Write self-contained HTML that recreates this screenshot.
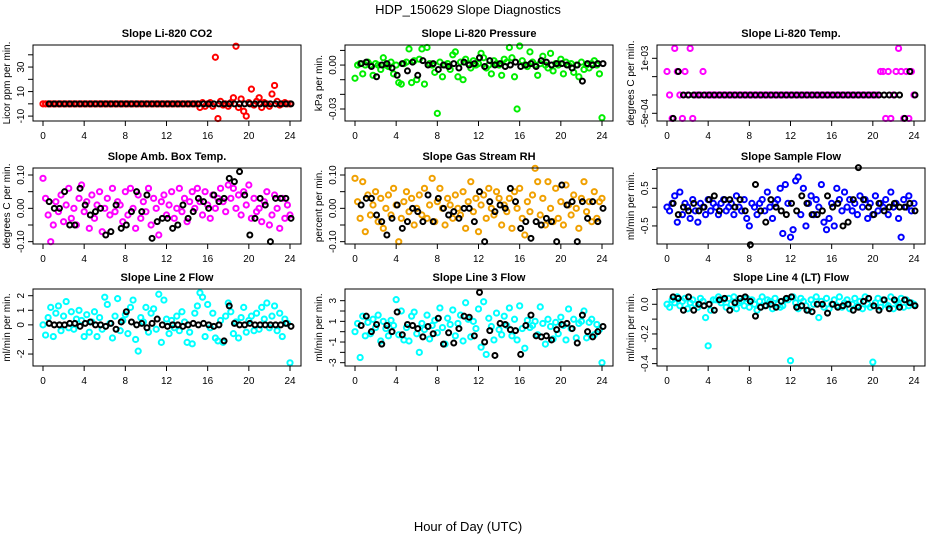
<!DOCTYPE html>
<html><head><meta charset="utf-8"><style>
body{margin:0;background:#fff;}
svg text{font-family:"Liberation Sans",Arial,sans-serif;}
</style></head><body>
<svg id="fig" width="936" height="540" viewBox="0 0 936 540" xmlns="http://www.w3.org/2000/svg">
<rect width="936" height="540" fill="#fff"/>
<text x="468" y="14" font-size="13" text-anchor="middle">HDP_150629  Slope Diagnostics</text>
<text x="468" y="531" font-size="13" text-anchor="middle">Hour of Day (UTC)</text>
</svg>
<script>
const hoursQ=[0,0.25,0.5,0.75,1,1.25,1.5,1.75,2,2.25,2.5,2.75,3,3.25,3.5,3.75,4,4.25,4.5,4.75,5,5.25,5.5,5.75,6,6.25,6.5,6.75,7,7.25,7.5,7.75,8,8.25,8.5,8.75,9,9.25,9.5,9.75,10,10.25,10.5,10.75,11,11.25,11.5,11.75,12,12.25,12.5,12.75,13,13.25,13.5,13.75,14,14.25,14.5,14.75,15,15.25,15.5,15.75,16,16.25,16.5,16.75,17,17.25,17.5,17.75,18,18.25,18.5,18.75,19,19.25,19.5,19.75,20,20.25,20.5,20.75,21,21.25,21.5,21.75,22,22.25,22.5,22.75,23,23.25,23.5,23.75,24];
const hoursH=[0,0.5,1,1.5,2,2.5,3,3.5,4,4.5,5,5.5,6,6.5,7,7.5,8,8.5,9,9.5,10,10.5,11,11.5,12,12.5,13,13.5,14,14.5,15,15.5,16,16.5,17,17.5,18,18.5,19,19.5,20,20.5,21,21.5,22,22.5,23,23.5,24];
const xTicks=[0,4,8,12,16,20,24];

const co2Col=[0,0,0,0,0,0,0,0,0,0, 0,0,0,0,0,0,0,0,0,0, 0,0,0,0,0,0,0,0,0,0, 0,0,0,0,0,0,0,0,0,0, 0,0,0,0,0,0,0,0,0,0, 0,0,0,0,0,0,0,0,0,0,
0,-3,1,-2,0,1,-2,38,-12,2, -1,0,-2,1,5,47,-3,4,-6,-10, 1,12,-1,2,5,-3,1,0,-2,8, 15,2,-1,0,1,0,0];
const co2Blk=[0,0,0,0,0,0,0,0,0,0, 0,0,0,0,0,0,0,0,0,0, 0,0,0,0,0,0,0,0,0,0, 0,0,0,0,0,0,0,0,0,0, 0,0,0,0,0,0,0,0,0];
const presCol=[-9,0,1,-6,0,2,0,-7,1,0, -3,5,0,-1,2,-6,0,-12,-13,1, 2,11,-12,3,-10,4,11,-13,12,1, 0,-5,-33,2,-8,0,1,-3,7,9, -8,2,-10,4,1,-2,3,0,1,8,
5,-2,0,-6,3,1,0,-7,4,2, 12,5,-8,-30,13,3,0,-1,9,2, 0,-7,1,6,0,-2,8,-4,1,0, 4,-6,2,0,1,-5,0,-8,2,-3, 0,-2,1,3,0,-6,-36];
const presBlk=[0,1,2,-1,-8,0,1,-2,-7,1, -4,2,-7,3,0,1,-3,0,-1,1, -2,2,0,1,5,-1,3,0,1,-1, 0,2,-1,0,1,-1,3,2,0,1, 1,0,-2,0,-11,1,0,1,1];
const tempCol=[6.4,0,-6.4,12.7,6.4,0,-6.4,6.4,0,12.7, -6.4,0,0,0,6.4,0,0,0,0,0, 0,0,0,0,0,0,0,0,0,0, 0,0,0,0,0,0,0,0,0,0, 0,0,0,0,0,0,0,0,0,0, 0,0,0,0,0,0,0,0,0,0,
0,0,0,0,0,0,0,0,0,0, 0,0,0,0,0,0,0,0,0,0, 0,0,0,6.4,6.4,-6.4,6.4,-6.4,0,6.4, 12.7,6.4,-6.4,6.4,-6.4,6.4,0];
const tempBlk=[0,-6.4,6.4,0,0,0,0,0,0,0, 0,0,0,0,0,0,0,0,0,0, 0,0,0,0,0,0,0,0,0,0, 0,0,0,0,0,0,0,0,0,0, 0,0,0,0,0,0,-6.4,6.4,0];
const ambCol=[9,3,-2,-10,-5,2,-1,4,-4,1, 6,-3,0,-5,3,7,-1,2,-6,4, -3,1,5,-7,0,3,-2,6,-1,2, 1,-4,5,-2,6,0,-6,4,-3,2, -1,6,-5,3,0,-8,2,4,-2,1,
5,-3,0,6,-1,3,-4,2,5,0, 6,2,-2,5,1,-3,4,0,3,6, 2,-1,7,3,6,0,4,-2,5,1, 7,-3,3,-1,0,-4,2,5,-5,-2, 4,0,-6,3,-3,1,-2];
const ambBlk=[-5,2,0,0,5,-5,-5,6,1,-2, -1,0,-8,-7,1,-6,-5,-1,5,-1, 4,-9,-4,-3,-3,-6,-5,1,-3,-1, 3,2,0,4,2,3,9,8,11,4, -8,-3,3,1,-10,3,3,3,-3];
const rhCol=[9,2,-3,8,-7,4,-2,1,5,-4, 3,-6,0,4,-2,6,1,-10,-3,2, 5,-1,3,-5,0,4,-2,6,-3,1, 9,-4,2,6,0,-5,3,1,-3,4, 0,-2,5,-6,2,8,-1,3,-7,1,
4,-3,6,0,-2,5,3,-5,1,-1, 3,-6,5,0,6,-3,-8,2,-1,4, 12,8,-2,3,-5,8,0,-4,6,-3, 2,-5,7,1,-2,4,0,-6,3,8, -1,2,-4,5,-3,2,3];
const rhBlk=[4,1,3,3,-2,-4,-8,-3,1,-6, -4,0,-1,-4,4,-4,3,0,-2,-1, -3,0,0,-4,5,-10,2,-1,1,0, 6,2,-6,-4,-9,-4,-5,-3,-4,-10, 7,1,2,-10,2,-3,2,-4,0];
const sfCol=[0,-0.1,0.1,0.3,-0.4,0.4,-0.2,0.1,0,-0.3, 0.2,-0.1,-0.4,0.1,0,-0.2,0.2,-0.1,0.1,0, -0.2,0.1,0.2,-0.1,0,0.1,-0.2,0.3,0,-0.1, 0.2,-0.3,-0.5,0.1,0,-0.2,0.1,0.2,-0.1,0.4, 0,-0.3,0.1,0.2,0.5,-0.7,0.6,0.1,-0.8,-0.6,
0.7,0.8,-0.2,0.5,-0.5,0.1,0.3,-0.2,0.2,0, 0.6,-0.4,-0.6,-0.3,0.1,-0.5,0.5,0.2,-0.1,0.4, 0,0.2,-0.1,0.1,-0.2,0.3,0,0.2,-0.3,0.1, -0.2,0.3,-0.1,0.1,0,0.2,-0.2,0.4,0,0.1, -0.3,-0.8,0.2,0,0.3,-0.1,0.1];
const sfBlk=[0,0.1,-0.2,0,-0.1,0.1,-0.1,0,0.2,0.3, -0.1,0.2,0.2,0,0.2,-0.1,-1,0.6,-0.1,-0.4, 0.2,0,-0.1,-0.2,0.1,-0.1,0.3,0.1,-0.2,-0.2, -0.1,0.3,0,0.1,-0.5,-0.4,0.2,1.05,0.2,0, -0.2,0.1,-0.1,0,0.1,0,0,0.1,-0.1];
const l2Col=[0,-0.7,0.5,1.2,-0.8,0.8,1.3,-0.4,0.6,1.6, -0.2,0.9,-0.3,0.4,1.0,0.3,-0.8,0.7,-0.5,0.2, 0.9,-0.8,0.5,-0.3,1.9,1.4,0.1,-0.9,0.6,1.8, -0.4,0.3,0.7,-0.6,1.2,1.7,-1.0,-1.8,0.5,0.2, 1.2,-0.5,0.8,1.1,-0.3,2.1,-1.2,1.7,0.4,-0.6,
0.3,-0.2,0.6,-0.4,0.9,0.2,-1.2,-0.5,-1.3,0.8, 1.3,2.2,1.9,-0.8,1.4,-0.2,0.8,-0.9,-1.1,0.3, -1.2,0.6,1.5,0.9,-0.6,0.2,-0.9,0.5,1.2,-0.5, 0.3,0.6,-0.4,0.8,-0.3,1.2,0.4,1.5,-0.2,0.6, 1.3,-0.4,0.8,-0.8,0.4,0.1,-2.6];
const l2Blk=[0,0.1,0,0,0,0.1,0.1,-0.1,0.1,0.2, 0,0,-0.1,0.1,-0.3,0.2,0.9,0.2,0,0.1, -0.2,0.1,0.4,0,-0.1,0,0,-0.1,0,0.1, 0,0.1,0,-0.1,0,-1.1,1.3,0.1,0,0, 0.1,0,0,0,0,0,0,0.1,-0.1];
const l3Col=[0,0.8,-2.5,1.5,-0.4,0.9,-0.2,1.2,0.4,1.6, -0.9,1.0,0.3,-0.4,1.1,0.6,3.1,-0.3,2.0,-0.8, 0.4,-0.9,1.5,1.9,-0.2,-2.0,0.8,0.2,1.6,-0.7, 0.6,1.1,-0.1,2.3,0.4,-1.2,1.3,0.7,2.1,-0.4, 0.8,1.6,-0.9,2.8,1.2,-0.5,1.0,0.3,2.2,-1.5,
2.9,-2.2,1.3,0.5,-0.8,1.8,0.2,-0.3,1.5,0.6, 2.3,-0.4,1.2,-0.8,2.5,0.3,-1.6,1.1,0.4,0.6, 1.0,-0.3,2.4,0.8,-1.2,1.2,0.5,-0.7,0.9,-0.2, 1.4,0.6,-0.8,2.2,0.3,1.2,-0.6,0.8,1.0,2.0, -0.6,0.9,1.2,-0.3,0.7,0.2,-3.0];
const l3Blk=[0,0.6,1.5,0,0.7,-1.2,0.6,0,1.9,-0.3, 0.7,0.6,0.3,-0.5,0.5,-0.2,1.3,-1.2,-0.1,-1.1, 0.3,1.5,1.4,-0.4,3.8,-1.0,0.1,-2.3,0.8,0.7, 0.2,0.1,-2.2,0.6,1.6,-0.4,-0.5,-0.4,-0.8,0.2, 0.7,0.8,0.3,-1.1,1.6,0,-0.5,0,0.5];
const l4Col=[0,-2,3,1,5,-1,2,4,-3,1, 3,0,-2,4,2,-9,-28,-4,3,3, 5,1,3,-2,4,0,5,-3,1,2, -1,4,-2,3,0,-4,2,5,-1,3, 2,-3,4,0,-2,-1,3,3,-38,5,
1,-3,4,2,-1,-4,3,0,5,-9, 2,-2,4,-3,0,3,-1,5,-2,1, 3,-3,0,4,-1,2,-3,5,0,-2, -39,1,4,-2,3,0,-1,5,-3,2, 0,4,-2,3,-1,1,0];
const l4Blk=[0,5,4,-4,5,-4,0,-1,0,-4, 3,4,-4,1,4,5,2,-8,-2,-1, 0,-2,2,4,5,-2,-1,-4,-5,0, 0,-6,0,-2,-1,0,-4,-2,2,4, -1,-4,3,-3,3,-2,3,1,-1];

const panels=[
 {name:'co2',title:'Slope Li-820 CO2',ylab:'Licor ppm per min.',col:0,row:0,dom:[-14,48],ticks:[-10,0,10,20,30,40],labs:['-10','','10','','30',''],color:'#ff0000',c:co2Col,b:co2Blk},
 {name:'pressure',title:'Slope Li-820 Pressure',ylab:'kPa per min.',col:1,row:0,dom:[-38.2,13.7],ticks:[10,0,-10,-20,-30],labs:['','0.00','','','-0.03'],color:'#00ee00',c:presCol,b:presBlk},
 {name:'temp',title:'Slope Li-820 Temp.',ylab:'degrees C per min.',col:2,row:0,dom:[-7.1,13.63],ticks:[10,5,0,-5],labs:['1e-03','','','-5e-04'],color:'#ff00ff',c:tempCol,b:tempBlk},
 {name:'amb-box-temp',title:'Slope Amb. Box Temp.',ylab:'degrees C per min.',col:0,row:1,dom:[-10.7,12.1],ticks:[-10,-5,0,5,10],labs:['-0.10','','0.00','','0.10'],color:'#ff00ff',c:ambCol,b:ambBlk},
 {name:'gas-stream-rh',title:'Slope Gas Stream RH',ylab:'percent per min.',col:1,row:1,dom:[-10.7,12.1],ticks:[-10,-5,0,5,10],labs:['-0.10','','0.00','','0.10'],color:'#f0a000',c:rhCol,b:rhBlk},
 {name:'sample-flow',title:'Slope Sample Flow',ylab:'ml/min per min.',col:2,row:1,dom:[-0.98,1.04],ticks:[-0.5,0,0.5,1.0],labs:['-0.5','','0.5',''],color:'#0000ff',c:sfCol,b:sfBlk},
 {name:'line2-flow',title:'Slope Line 2 Flow',ylab:'ml/min per min.',col:0,row:2,dom:[-2.82,2.46],ticks:[-2,-1,0,1,2],labs:['-2','','0','1','2'],color:'#00ffff',c:l2Col,b:l2Blk},
 {name:'line3-flow',title:'Slope Line 3 Flow',ylab:'ml/min per min.',col:1,row:2,dom:[-3.32,4.13],ticks:[-3,-2,-1,0,1,2,3],labs:['-3','','-1','','1','','3'],color:'#00ffff',c:l3Col,b:l3Blk},
 {name:'line4-flow',title:'Slope Line 4 (LT) Flow',ylab:'ml/min per min.',col:2,row:2,dom:[-41.6,10.3],ticks:[10,0,-10,-20,-30,-40],labs:['','0.0','','-0.2','','-0.4'],color:'#00ffff',c:l4Col,b:l4Blk}
];
const colX=[33,345,657], rowTop=[45,168,289], rowBot=[121,244,366], W=268;
const NS='http://www.w3.org/2000/svg';
const svg=document.getElementById('fig');
function mk(tag,attrs,parent){const e=document.createElementNS(NS,tag);for(const k in attrs)e.setAttribute(k,attrs[k]);(parent||svg).appendChild(e);return e;}
panels.forEach(p=>{
 const L=colX[p.col],T=rowTop[p.row],B=rowBot[p.row];
 const xs=h=>L+10+h/24*247;
 const ys=v=>B-(v-p.dom[0])/(p.dom[1]-p.dom[0])*(B-T);
 const g=mk('g',{});
 
 
 const t=mk('text',{x:L+W/2,y:T-8,'font-size':11,'font-weight':'bold','text-anchor':'middle'},g);
 
 
 t.textContent=p.title;
 const yl=mk('text',{x:0,y:0,'font-size':10,'text-anchor':'middle',transform:`translate(${L-23},${(T+B)/2}) rotate(-90)`},g);
 
 
 yl.textContent=p.ylab;
 const pts=mk('g',{fill:'none','stroke-width':2},g);
 
 
 p.c.forEach((v,i)=>{const c=mk('circle',{cx:xs(hoursQ[i]),cy:ys(v),r:2.6,stroke:p.color},pts);
  
  });
 const bpts=mk('g',{fill:'none','stroke-width':2},g);
 
 
 p.b.forEach((v,i)=>{if(i===0)return;const c=mk('circle',{cx:xs(hoursH[i])+1,cy:ys(v),r:2.5,stroke:'#000'},bpts);
  
  });
 const box=mk('rect',{x:L,y:T,width:W,height:B-T,fill:'none',stroke:'#000','stroke-width':1},g);
 
 
 const ax=mk('g',{stroke:'#000','stroke-width':1},g);
 
 
 xTicks.forEach(h=>{mk('line',{x1:xs(h),x2:xs(h),y1:B,y2:B+5},ax);
  const tl=mk('text',{x:xs(h),y:B+18,'font-size':10,'text-anchor':'middle',stroke:'none'},g);
  
  
  tl.textContent=h;});
 p.ticks.forEach((v,i)=>{const y=ys(v);mk('line',{x1:L-5,x2:L,y1:y,y2:y},ax);
  if(p.labs[i]){const tl=mk('text',{x:0,y:0,'font-size':10,'text-anchor':'middle',transform:`translate(${L-9},${y}) rotate(-90)`},g);
   
   
   tl.textContent=p.labs[i];}});
});
</script>
</body></html>
